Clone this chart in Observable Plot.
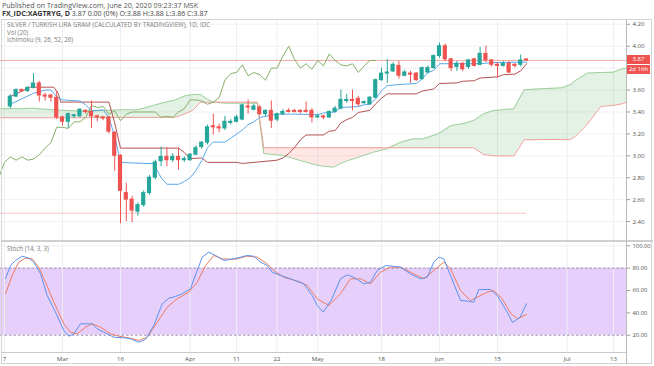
<!DOCTYPE html>
<html><head><meta charset="utf-8">
<script src="https://cdn.jsdelivr.net/npm/d3@7"></script>
<script src="https://cdn.jsdelivr.net/npm/@observablehq/plot@0.6"></script>
<style>
body{margin:0;background:#fff;font-family:"Open Sans",sans-serif;}
#wrap{position:relative;width:654px;height:366px;overflow:hidden;background:#fff;}
.t{position:absolute;white-space:nowrap;line-height:1;}
.abs{position:absolute;}
</style></head><body><div id="wrap"></div>
<script>
// ---------- DATA ----------
const FIRST_BAR = -9; // bar index of first candle (Mar 2, 2020 = 0)
const open  = [3.45,3.54,3.60,3.59,3.62,3.66,3.55,3.55,3.53,3.35,3.31,3.36,3.36,3.41,3.40,3.36,3.35,3.35,3.21,3.00,2.66,2.60,2.49,2.55,2.66,2.80,2.95,2.99,2.96,2.99,2.96,2.96,3.01,3.08,3.12,3.27,3.26,3.25,3.30,3.31,3.33,3.45,3.42,3.44,3.38,3.41,3.33,3.38,3.41,3.41,3.41,3.41,3.41,3.35,3.36,3.35,3.40,3.43,3.50,3.51,3.52,3.48,3.47,3.53,3.69,3.75,3.77,3.82,3.73,3.75,3.75,3.70,3.76,3.80,3.91,4.00,3.88,3.81,3.84,3.81,3.88,3.83,3.93,3.87,3.83,3.82,3.84,3.83,3.83,3.88];
const high  = [3.56,3.61,3.61,3.63,3.75,3.68,3.57,3.56,3.59,3.36,3.39,3.38,3.43,3.42,3.50,3.37,3.36,3.36,3.22,3.01,2.75,2.63,2.57,2.68,2.82,2.96,3.08,3.07,3.02,3.07,2.99,3.02,3.09,3.13,3.28,3.38,3.29,3.36,3.33,3.37,3.47,3.51,3.47,3.46,3.42,3.50,3.39,3.42,3.43,3.42,3.42,3.49,3.43,3.38,3.37,3.41,3.45,3.60,3.56,3.60,3.54,3.50,3.54,3.70,3.80,3.88,3.85,3.86,3.78,3.77,3.76,3.81,3.82,3.92,4.03,4.02,3.89,3.86,3.85,3.88,3.89,3.99,4.00,3.88,3.85,3.86,3.86,3.84,3.92,3.88];
const low   = [3.43,3.53,3.58,3.58,3.61,3.49,3.50,3.49,3.33,3.27,3.25,3.34,3.35,3.38,3.25,3.31,3.32,3.20,2.86,2.38,2.40,2.39,2.45,2.53,2.64,2.78,2.90,2.90,2.94,2.87,2.94,2.95,3.00,3.06,3.10,3.19,3.21,3.23,3.28,3.30,3.32,3.38,3.41,3.37,3.36,3.25,3.31,3.37,3.39,3.39,3.38,3.39,3.30,3.34,3.33,3.34,3.39,3.42,3.48,3.41,3.45,3.47,3.46,3.52,3.68,3.66,3.76,3.70,3.72,3.66,3.68,3.69,3.75,3.79,3.89,3.86,3.77,3.77,3.77,3.79,3.81,3.82,3.85,3.81,3.71,3.81,3.75,3.80,3.81,3.86];
const close = [3.54,3.60,3.59,3.62,3.66,3.55,3.54,3.53,3.35,3.31,3.38,3.37,3.42,3.40,3.36,3.35,3.34,3.22,3.00,2.68,2.60,2.50,2.55,2.66,2.80,2.94,2.99,2.96,2.99,2.96,2.97,3.01,3.07,3.12,3.26,3.26,3.25,3.31,3.31,3.35,3.46,3.44,3.45,3.38,3.41,3.32,3.38,3.40,3.40,3.40,3.40,3.40,3.35,3.36,3.35,3.40,3.43,3.51,3.51,3.50,3.47,3.49,3.53,3.69,3.75,3.76,3.83,3.73,3.76,3.74,3.69,3.80,3.80,3.91,4.00,3.88,3.80,3.84,3.79,3.87,3.82,3.93,3.87,3.83,3.82,3.84,3.76,3.82,3.87,3.87];
const LOW_LINE = 2.476;
const CHIKOU_SHIFT = 26;

// Ichimoku lines (bar index, price)
const tenkanX = [-9,-5,-3,-2,-1,0,3,4,5,7,8,9,10,14,15.7,17,18,20,21,22,23,24,25,26,28,29,31,32,33,34,37,40,44,45,47,48,51,52,53,54,55,56,58,61,62,63,64,65,72,74,80];
const tenkanY = [3.47,3.57,3.60,3.60,3.54,3.51,3.50,3.465,3.41,3.42,3.35,3.18,2.94,2.93,2.93,2.80,2.74,2.74,2.765,2.80,2.865,2.955,3.075,3.125,3.125,3.16,3.235,3.285,3.31,3.35,3.38,3.38,3.375,3.39,3.40,3.44,3.45,3.465,3.47,3.52,3.595,3.64,3.65,3.66,3.70,3.76,3.78,3.84,3.84,3.85,3.855];
const kijunX = [-9,-5.5,-1.5,-0.7,-0.3,8,9,10,20,21,22,24,25,30,31,34,37,38,39,40,41,42,45,46,47,48,49,50,51,53,54,55,56,61,62,64,65,68,69,71,72,75,76,78,79,80];
const kijunY = [3.54,3.626,3.626,3.566,3.49,3.49,3.30,3.07,3.07,3.03,2.975,2.98,2.94,2.94,2.93,2.945,2.96,2.98,3.02,3.075,3.145,3.19,3.19,3.225,3.23,3.30,3.33,3.35,3.395,3.415,3.475,3.525,3.565,3.565,3.59,3.61,3.66,3.665,3.68,3.685,3.71,3.72,3.74,3.745,3.775,3.84];
const leadX = [-11,-7,-5,-2,1,4,7,10,13,15.7,17,19.5,21,22.4,23.8,25,26,28,33.6,34.7,38,41,44,46.7,48.4,51,53.6,56,58.3,60.5,62.2,64.7,67,69,70.9,72.6,74.3,77.8,79.6,82.4,86,87.6,88.5,90.5,92.8,95,96.5,99];
const leadA = [3.429,3.429,3.434,3.42,3.413,3.407,3.413,3.42,3.42,3.46,3.48,3.51,3.545,3.56,3.56,3.515,3.489,3.48,3.48,3.021,3.003,2.957,2.912,2.896,2.942,2.987,3.033,3.064,3.124,3.155,3.155,3.20,3.276,3.292,3.322,3.383,3.413,3.429,3.602,3.611,3.62,3.65,3.69,3.754,3.76,3.763,3.794,3.81];
const leadB = [3.347,3.347,3.347,3.347,3.347,3.347,3.35,3.35,3.35,3.35,3.352,3.352,3.38,3.413,3.489,3.489,3.489,3.489,3.489,3.073,3.073,3.073,3.073,3.073,3.073,3.073,3.073,3.073,3.073,3.073,3.073,3.073,3.073,3.073,3.073,3.012,3.00,2.998,3.146,3.148,3.149,3.149,3.18,3.29,3.45,3.46,3.475,3.52];

// Stochastic (14,3,3)
const stochKX = [-9.83,-8.97,-8.1,-6.95,-5.81,-4.95,-3.79,-2.64,-1.21,0.22,1.09,1.95,3.1,4.26,5.12,5.98,7.12,8.84,10.57,11.72,13.16,14.31,15.74,17.19,18.33,19.48,20.64,22.07,23.22,24.09,25.22,26.38,27.81,29.53,30.69,31.84,32.98,34.14,35.29,36.16,37.59,39.31,41.6,43.05,43.91,44.95,46.4,47.93,49.09,50.22,51.95,53.1,54.26,55.69,56.84,58.28,60,61.72,62.88,64.02,64.88,65.74,66.9,68.62,69.78,70.91,71.78,73.79,74.95,76.67,77.6,78.9,80];
const stochK  = [70.5,82.4,86.9,90.7,89,85.4,75,55.6,40.6,24.2,19.1,21.2,30.2,30.2,30.2,25.7,22.7,18.2,17.7,16.8,13.7,16.2,28.7,48.1,53.1,54.7,57.1,61.6,78,89.9,94.4,91.4,86.9,88.4,89.9,91.4,90.7,85.4,82.4,76.4,73.5,70.5,66,55.6,46.6,40.6,52,70.5,74.1,71.9,66,67.5,77.9,82.4,81.8,80.9,74.9,70.5,71.9,85.4,89.9,88.4,73.5,51.1,50.5,49.6,60.9,60.9,55.6,40.6,31.5,36.1,48.1];
const stochDX = [-9.83,-8.67,-7.53,-6.38,-5.22,-4.09,-2.93,-1.5,0.22,1.38,2.53,3.97,5.12,6.55,8.28,9.71,11.72,13.16,14.6,16.33,18.05,19.78,21.78,23.22,24.66,26.09,27.53,29.53,31.84,33.57,35.29,36.43,38.16,41.03,42.19,43.91,45.9,47.93,49.66,51.38,53.1,54.83,56.55,58.28,60,62.29,64.02,65.74,66.9,68.62,70.34,71.5,73.22,74.36,75.81,77.3,78.5,80];
const stochD  = [57.1,73.5,85.4,89,88.4,80.9,67.5,49.6,30.2,22.7,21.2,27.2,30.2,27.2,21.2,19.1,17.3,15.3,18.2,31.6,45.1,52.6,58.5,67.5,82.4,91.4,88.4,87.8,90.7,89.9,83.9,77.9,71.9,67.5,64.5,52.6,46.6,57.1,70.5,70.5,66,76.4,80.9,80.9,76.4,70.5,77.9,85.4,79.4,60,51.1,54,58.5,60,52.6,39.2,34.7,38.6];
const stochBand = [20, 80];

// Axis ticks
const dateTickIdx = [-10,0,10,22,30,37,44,55,65,75,87,95];
const dateTickLabels = ["7","Mar","16","Apr","11","22","May","18","Jun","15","Jul","13"];
const priceTicks = [2.4,2.6,2.8,3.0,3.2,3.4,3.6,3.8,4.0,4.2];
const priceLabelTicks = [2.4,2.6,2.8,3.0,3.2,3.4,3.6,4.0,4.2]; // 3.80 is hidden under the price boxes
const stochTicks = [20,40,60,80,100];

// ---------- BUILD ----------
const UP = "#26a69a", DN = "#ef5350";
const XD = [-10.69, 97.24];
const W = 654;
const bars = open.map((o,k)=>({i: FIRST_BAR+k, o, h: high[k], l: low[k], c: close[k]}));
const lastBar = bars[bars.length-1];
const chikou = bars.map(b=>({x: b.i - CHIKOU_SHIFT, y: b.c}));
const tenkan = tenkanX.map((x,k)=>({x, y: tenkanY[k]}));
const kijun = kijunX.map((x,k)=>({x, y: kijunY[k]}));
const cloud = leadX.map((x,k)=>({x, a: leadA[k], b: leadB[k]}));
const kLine = stochKX.map((x,k)=>({x, y: stochK[k]}));
const dLine = stochDX.map((x,k)=>({x, y: stochD[k]}));
const fmt2 = d3.format(".2f");
const font = {fontFamily:"'Open Sans', sans-serif", fontSize:"6.1px", color:"#505050", background:"transparent", overflow:"hidden"};

const mainPlot = Plot.plot({
  width: W, height: 222, marginTop: 0, marginBottom: 0, marginLeft: 0, marginRight: 28,
  style: font,
  x: {domain: XD, axis: null, label: null},
  y: {domain: [2.218, 4.2436], axis: null, label: null},
  marks: [
    Plot.gridX(dateTickIdx, {stroke:"#eceef2", strokeOpacity:1}),
    Plot.gridY(priceTicks, {stroke:"#f0f1f4", strokeOpacity:1}),
    Plot.areaY(cloud, {x:"x", y1:"b", y2:d=>Math.max(d.a,d.b), fill:"#43a047", fillOpacity:0.14, clip:true}),
    Plot.areaY(cloud, {x:"x", y1:"a", y2:d=>Math.max(d.a,d.b), fill:"#f44336", fillOpacity:0.13, clip:true}),
    Plot.line(cloud, {x:"x", y:"a", stroke:"#9ccf9a", strokeWidth:1, clip:true}),
    Plot.line(cloud, {x:"x", y:"b", stroke:"#ee9e98", strokeWidth:1, clip:true}),
    Plot.ruleY([LOW_LINE], {x1:()=>XD[0], x2:()=>lastBar.i, stroke:"#f2c6c2", strokeWidth:1}),
    Plot.ruleY([lastBar.c], {stroke:"#f2aaa5", strokeWidth:1}),
    Plot.line(chikou, {x:"x", y:"y", stroke:"#86b06a", strokeWidth:1, clip:true}),
    Plot.line(kijun, {x:"x", y:"y", stroke:"#b45252", strokeWidth:1, clip:true}),
    Plot.line(tenkan, {x:"x", y:"y", stroke:"#5aa8ee", strokeWidth:1, clip:true}),
    Plot.ruleX(bars, {x:"i", y1:"l", y2:"h", stroke:d=>d.c>=d.o?UP:DN, strokeWidth:1}),
    Plot.rect(bars, {x1:d=>d.i-0.36, x2:d=>d.i+0.36, y1:d=>Math.min(d.o,d.c), y2:d=>Math.max(d.o,d.c), fill:d=>d.c>=d.o?UP:DN, insetTop:-0.5, insetBottom:-0.5}),
    Plot.axisY(priceLabelTicks, {anchor:"right", label:null, tickFormat:fmt2, tickSize:3, tickPadding:3, stroke:"#9a9a9a", fill:"#505050"})
  ]
});

const stochPlot = Plot.plot({
  width: W, height: 125, marginTop: 0, marginBottom: 14, marginLeft: 0, marginRight: 28,
  style: font,
  x: {domain: XD, axis: null, label: null},
  y: {domain: [4.5, 103.9], axis: null, label: null},
  marks: [
    Plot.rect([stochBand], {x1:()=>XD[0], x2:()=>XD[1], y1:d=>d[0], y2:d=>d[1], fill:"#e6cffb"}),
    Plot.gridX(dateTickIdx, {stroke:"#eceef2", strokeOpacity:1}),
    Plot.gridY([100], {stroke:"#eceef2", strokeOpacity:1}),
    Plot.ruleY(stochBand, {stroke:"#9d8fae", strokeDasharray:"2.5,2", strokeWidth:1}),
    Plot.line(dLine, {x:"x", y:"y", stroke:"#ef7b5e", strokeWidth:1, clip:true}),
    Plot.line(kLine, {x:"x", y:"y", stroke:"#5b93ee", strokeWidth:1, clip:true}),
    Plot.axisY(stochTicks, {anchor:"right", label:null, tickFormat:fmt2, tickSize:3, tickPadding:3, stroke:"#9a9a9a", fill:"#505050", fontSize:5.8}),
    Plot.axisX(dateTickIdx, {anchor:"bottom", label:null, tickFormat:d=>dateTickLabels[dateTickIdx.indexOf(d)], tickSize:0, tickPadding:4, fill:"#505050"})
  ]
});

const wrap = document.getElementById("wrap");
function addT(txt, left, top, size, color, weight){
  const d = document.createElement("div"); d.className="t";
  d.textContent = txt; d.style.left=left+"px"; d.style.top=top+"px";
  d.style.fontSize=size+"px"; d.style.color=color; if(weight) d.style.fontWeight=weight;
  wrap.appendChild(d); return d;
}
function addBox(left, top, w, h, css){
  const d = document.createElement("div"); d.className="abs";
  Object.assign(d.style, {left:left+"px", top:top+"px", width:w+"px", height:h+"px"}, css);
  wrap.appendChild(d); return d;
}
const MAIN_TOP = 19, STOCH_TOP = 241;
mainPlot.style.position="absolute"; mainPlot.style.left="0px"; mainPlot.style.top=MAIN_TOP+"px";
stochPlot.style.position="absolute"; stochPlot.style.left="0px"; stochPlot.style.top=STOCH_TOP+"px";
wrap.appendChild(mainPlot); wrap.appendChild(stochPlot);

// frame + separators
addBox(1, MAIN_TOP, 651, 345, {border:"1px solid #d4d4d4", boxSizing:"border-box"});
addBox(1, STOCH_TOP-1.5, 652, 2, {background:"#cfcfcf"});
addBox(1, 351.5, 625, 1, {background:"#c8c8c8"});
addBox(625.5, MAIN_TOP, 1, 345, {background:"#b9b9b9"});

// header texts
addT("Published on TradingView.com, June 20, 2020 09:23:37 MSK", 2, 1.5, 7.1, "#555");
const h2 = addT("", 2, 10, 7.1, "#444");
h2.innerHTML = '<b style="color:#333">FX_IDC:XAGTRYG, D</b> 3.87 0.00 (0%) O:3.88 H:3.88 L:3.86 C:3.87';
addT("SILVER / TURKISH LIRA GRAM (CALCULATED BY TRADINGVIEW), 1D, IDC", 7, 21.5, 6.2, "#7a7a7a");
addT("Vol (20)", 7, 29.5, 6.2, "#7a7a7a");
addT("Ichimoku (9, 26, 52, 26)", 7, 37, 6.2, "#7a7a7a");
addT("Stoch (14, 3, 3)", 7, 245.5, 6.2, "#7a7a7a");

// price label boxes on the axis
const yMain = mainPlot.scale("y");
const yc = MAIN_TOP + yMain.apply(lastBar.c);
const b1 = addBox(627, yc-4.5, 23, 9, {background:DN, color:"#fff", fontSize:"6px", lineHeight:"9px", textAlign:"center", fontFamily:"'Open Sans',sans-serif"});
b1.textContent = fmt2(lastBar.c);
const b2 = addBox(627, yc+5.5, 23, 9, {background:DN, color:"#fff", fontSize:"6px", lineHeight:"9px", textAlign:"center", fontFamily:"'Open Sans',sans-serif"});
b2.textContent = "2d 16h";
</script>
</body></html>
